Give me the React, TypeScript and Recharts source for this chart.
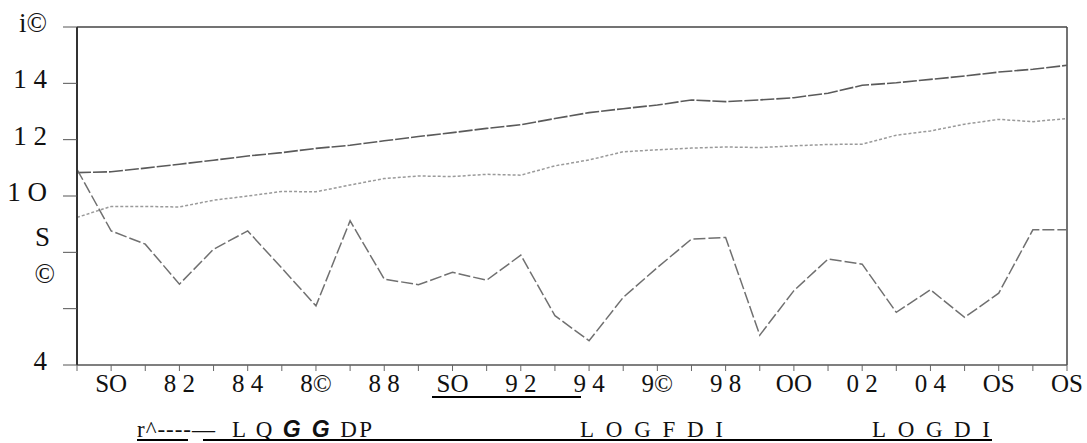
import { LineChart, Line, XAxis, YAxis, ReferenceLine } from "recharts";

const years = [
  1979, 1980, 1981, 1982, 1983, 1984, 1985, 1986, 1987, 1988, 1989, 1990, 1991, 1992, 1993,
  1994, 1995, 1996, 1997, 1998, 1999, 2000, 2001, 2002, 2003, 2004, 2005, 2006, 2007, 2008,
];

const logGdp = [
  10.83, 10.86, 10.99, 11.13, 11.27, 11.42, 11.54, 11.69, 11.8, 11.96, 12.11, 12.25, 12.4, 12.53, 12.75,
  12.96, 13.1, 13.23, 13.41, 13.35, 13.41, 13.49, 13.65, 13.93, 14.02, 14.14, 14.26, 14.4, 14.5, 14.64,
];

const logDi = [
  9.24, 9.63, 9.63, 9.61, 9.85, 10.0, 10.16, 10.15, 10.39, 10.62, 10.71, 10.69, 10.77, 10.74, 11.07,
  11.28, 11.57, 11.64, 11.7, 11.74, 11.72, 11.78, 11.83, 11.84, 12.16, 12.31, 12.55, 12.72, 12.64, 12.75,
];

const logFdi = [
  10.95, 8.76, 8.29, 6.87, 8.11, 8.76, 7.44, 6.1, 9.12, 7.05, 6.85, 7.29, 7.01, 7.9, 5.75,
  4.86, 6.4, 7.46, 8.47, 8.53, 5.06, 6.64, 7.76, 7.58, 5.87, 6.67, 5.69, 6.55, 8.8, 8.8,
];

const yTicks = [4, 6, 8, 10, 12, 14, 16];
const yTickLabels: Record<number, string[]> = {
  16: ["i©"],
  14: ["1 4"],
  12: ["1 2"],
  10: ["1 O"],
  8: ["S", "©"],
  6: [],
  4: ["4"],
};

const xTickLabels: Record<number, string> = {
  1980: "SO",
  1982: "8 2",
  1984: "8 4",
  1986: "8©",
  1988: "8 8",
  1990: "SO",
  1992: "9 2",
  1994: "9 4",
  1996: "9©",
  1998: "9 8",
  2000: "OO",
  2002: "0 2",
  2004: "0 4",
  2006: "OS",
  2008: "OS",
};

const data = years.map((year, i) => ({
  year,
  gdp: logGdp[i],
  di: logDi[i],
  fdi: logFdi[i],
}));

const FONT = "'Liberation Serif', 'Times New Roman', serif";

const YTick = (props: any) => {
  const { y, payload } = props;
  const lines = yTickLabels[payload.value] || [];
  if (lines.length === 2) {
    return (
      <g>
        <text x={50} y={y - 15} textAnchor="end" dominantBaseline="central" fontSize={27} fontFamily={FONT} fill="#111">
          {lines[0]}
        </text>
        <text x={55} y={y + 22} textAnchor="end" dominantBaseline="central" fontSize={27} fontFamily={FONT} fill="#111">
          {lines[1]}
        </text>
      </g>
    );
  }
  if (!lines.length) return <g />;
  return (
    <text x={47} y={y - 4} textAnchor="end" dominantBaseline="central" fontSize={27} fontFamily={FONT} fill="#111">
      {lines[0]}
    </text>
  );
};

const XTick = (props: any) => {
  const { x, payload } = props;
  const label = xTickLabels[payload.value];
  if (!label) return <g />;
  return (
    <text x={x} y={392} textAnchor="middle" fontSize={25} fontFamily={FONT} fill="#111">
      {label}
    </text>
  );
};

export default function App() {
  return (
    <div style={{ position: "absolute", left: 0, top: 0, width: 1087, height: 443, background: "#fff" }}>
      <LineChart width={1087} height={443} data={data} margin={{ top: 27, right: 20, bottom: 0, left: 0 }}>
        <XAxis
          dataKey="year"
          height={78}
          interval={0}
          tick={<XTick />}
          tickSize={6}
          tickLine={{ stroke: "#666", strokeWidth: 1 }}
          axisLine={{ stroke: "#555", strokeWidth: 1.5 }}
        />
        <YAxis
          type="number"
          domain={[4, 16]}
          ticks={yTicks}
          width={77}
          interval={0}
          tick={<YTick />}
          tickSize={14}
          tickLine={{ stroke: "#555", strokeWidth: 1 }}
          axisLine={{ stroke: "#333", strokeWidth: 2 }}
        />
        <ReferenceLine y={16} stroke="#444" strokeWidth={1.5} ifOverflow="visible" />
        <ReferenceLine x={2008} stroke="#444" strokeWidth={1.5} ifOverflow="visible" />
        <Line
          dataKey="gdp"
          name="LOGGDP"
          stroke="#5a5a5a"
          strokeWidth={1.6}
          strokeDasharray="14 2"
          dot={false}
          isAnimationActive={false}
        />
        <Line
          dataKey="di"
          name="LOGDI"
          stroke="#9a9a9a"
          strokeWidth={1.5}
          strokeDasharray="3 2"
          dot={false}
          isAnimationActive={false}
        />
        <Line
          dataKey="fdi"
          name="LOGFDI"
          stroke="#707070"
          strokeWidth={1.5}
          strokeDasharray="12 3"
          dot={false}
          isAnimationActive={false}
        />
      </LineChart>
      <svg
        width={1087}
        height={443}
        style={{ position: "absolute", left: 0, top: 0, pointerEvents: "none" }}
      >
        <line x1={432} y1={397} x2={581} y2={397} stroke="#000" strokeWidth={2} />
        <text x={137} y={437} fontSize={23} fontFamily={FONT} fill="#111" textLength={78} lengthAdjust="spacing">
          r^----—
        </text>
        <text x={232} y={437} fontSize={23} fontFamily={FONT} fill="#111" textLength={140} lengthAdjust="spacing">
          L Q{" "}
          <tspan fontFamily="'Liberation Sans', Arial, sans-serif" fontStyle="italic" fontWeight="bold">
            G G
          </tspan>{" "}
          DP
        </text>
        <text x={580} y={437} fontSize={23} fontFamily={FONT} fill="#111" textLength={143} lengthAdjust="spacing">
          LOGFDI
        </text>
        <text x={872} y={437} fontSize={23} fontFamily={FONT} fill="#111" textLength={118} lengthAdjust="spacing">
          LOGDI
        </text>
        <line x1={137} y1={440} x2={188} y2={440} stroke="#000" strokeWidth={2} />
        <line x1={203} y1={440} x2={992} y2={440} stroke="#000" strokeWidth={2} />
      </svg>
    </div>
  );
}
